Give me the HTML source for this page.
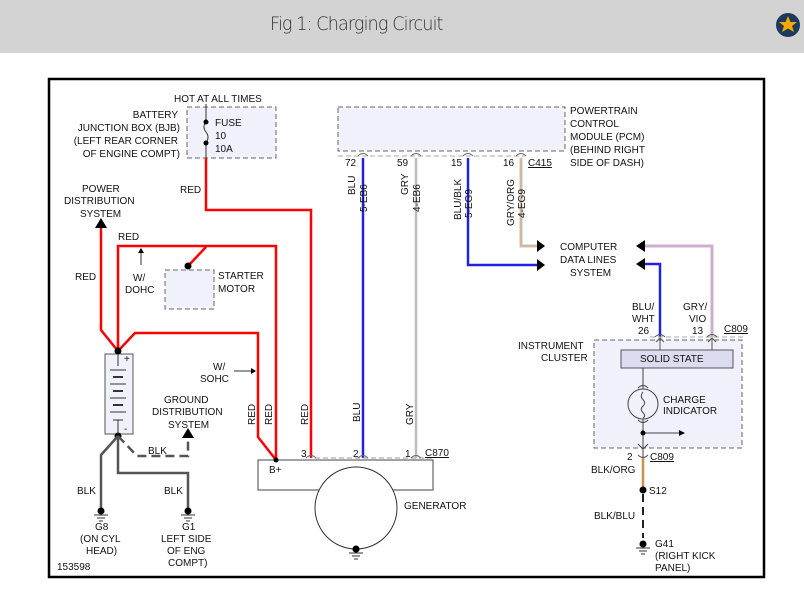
<!DOCTYPE html>
<html><head><style>
body{margin:0;width:804px;height:611px;background:#fff;overflow:hidden;font-family:"Liberation Sans",sans-serif}
.hdr{position:absolute;left:0;top:0;width:804px;height:53px;background:#d3d3d3}
.hdr span{position:absolute;left:270px;top:13px;font-size:19px;color:#333;font-family:"DejaVu Sans","Liberation Sans",sans-serif;letter-spacing:-1px;font-weight:300;transform:scaleX(0.93);transform-origin:left}
svg{position:absolute;left:0;top:0}
text{font-family:"Liberation Sans",sans-serif;font-size:10px;fill:#111}
</style></head><body>
<div class="hdr"><span>Fig 1: Charging Circuit</span></div>
<svg width="804" height="611">
<circle cx="788" cy="25" r="12" fill="#1d3a5c"/>
<polygon points="788,16 790.5,22 797,22 792,26 794,32 788,28.5 782,32 784,26 779,22 785.5,22" fill="#f5a800"/>
<rect x="49" y="79" width="715" height="498" fill="none" stroke="#000" stroke-width="2.5"/>

<!-- fuse box -->
<rect x="187" y="107" width="89" height="51" fill="#f1f1fb" stroke="#666" stroke-dasharray="5,3"/>
<line x1="206" y1="104" x2="206" y2="122" stroke="#333"/>
<line x1="206" y1="143" x2="206" y2="158" stroke="#333"/>
<path d="M206,122 q-4,5 0,10 q4,5 0,11" fill="none" stroke="#333"/>
<circle cx="206" cy="122" r="2.5"/><circle cx="206" cy="143" r="2.5"/>
<text x="174" y="102">HOT AT ALL TIMES</text>
<text x="215" y="126">FUSE</text><text x="215" y="139">10</text><text x="215" y="152">10A</text>
<text x="178" y="118" text-anchor="end">BATTERY</text>
<text x="180" y="131" text-anchor="end">JUNCTION BOX (BJB)</text>
<text x="178" y="144" text-anchor="end">(LEFT REAR CORNER</text>
<text x="180" y="157" text-anchor="end">OF ENGINE COMPT)</text>

<!-- PCM -->
<rect x="338" y="107" width="227" height="44" fill="#f1f1fb" stroke="#666" stroke-dasharray="5,3"/>
<line x1="338" y1="156" x2="525" y2="156" stroke="#aaa" stroke-dasharray="5,3"/>
<g fill="none" stroke="#666"><path d="M358,156 q5,-5 10,0"/><path d="M411,156 q5,-5 10,0"/><path d="M463,156 q5,-5 10,0"/><path d="M516,156 q5,-5 10,0"/></g>
<text x="570" y="114">POWERTRAIN</text><text x="570" y="127">CONTROL</text><text x="570" y="140">MODULE (PCM)</text><text x="570" y="153">(BEHIND RIGHT</text><text x="570" y="166">SIDE OF DASH)</text>
<text x="345" y="166">72</text><text x="397" y="166">59</text><text x="451" y="166">15</text><text x="503" y="166">16</text>
<text x="528" y="166" text-decoration="underline">C415</text>

<!-- wires -->
<g fill="none" stroke-width="2.5">
<path d="M206,158 V210 H311 V458" stroke="#f00"/>
<path d="M101,222 V330 L118,351 L135,333 H258 V437 L276,460" stroke="#f00"/>
<path d="M118,351 V246 H276 V460" stroke="#f00"/>
<path d="M188,266 L206,247" stroke="#f00"/>
<path d="M363,158 V458" stroke="#22d"/>
<path d="M416,158 V458" stroke="#bbb"/>
<path d="M468,158 V265 H537" stroke="#22d"/>
<path d="M521,158 V246 H537" stroke="#e8b890" stroke-width="3"/>
<path d="M521,158 V246 H537" stroke="#bbb" stroke-width="1.5"/>
<path d="M660,337 V264 H645" stroke="#22d"/>
<path d="M712,337 V246 H645" stroke="#e0a0e0" stroke-width="3"/>
<path d="M712,337 V246 H645" stroke="#bbb" stroke-width="1.5"/>
<path d="M643,458 V490" stroke="#c89050"/>
</g>
<g transform="translate(101,218)"><polygon points="-6,10 6,10 0,0"/></g>
<polygon points="537,240 545,246 537,252"/><polygon points="537,259 545,265 537,271"/>
<polygon points="645,240 636,246 645,252"/><polygon points="645,258 636,264 645,270"/>
<text x="355" y="195" transform="rotate(-90 355 195)">BLU</text>
<text x="367" y="212" transform="rotate(-90 367 212)" font-size="9">5-EB6</text>
<text x="408" y="195" transform="rotate(-90 408 195)">GRY</text>
<text x="420" y="212" transform="rotate(-90 420 212)" font-size="9">4-EB6</text>
<text x="461" y="220" transform="rotate(-90 461 220)">BLU/BLK</text>
<text x="472" y="218" transform="rotate(-90 472 218)" font-size="9">5-EG9</text>
<text x="514" y="226" transform="rotate(-90 514 226)">GRY/ORG</text>
<text x="525" y="218" transform="rotate(-90 525 218)" font-size="9">4-EG9</text>
<text x="560" y="250">COMPUTER</text><text x="560" y="263">DATA LINES</text><text x="570" y="276">SYSTEM</text>
<text x="180" y="193">RED</text>
<text x="82" y="192">POWER</text>
<text x="64" y="204">DISTRIBUTION</text><text x="80" y="217">SYSTEM</text>
<text x="118" y="240">RED</text>
<text x="75" y="280">RED</text>
<line x1="141" y1="265" x2="141" y2="252" stroke="#333"/><polygon points="138,253 144,253 141,248"/>
<text x="133" y="281">W/</text><text x="125" y="293">DOHC</text>

<!-- starter -->
<rect x="165" y="270" width="49" height="39" fill="#f1f1fb" stroke="#666" stroke-dasharray="5,3"/>
<circle cx="188" cy="266" r="3.5"/>
<text x="218" y="279">STARTER</text><text x="218" y="292">MOTOR</text>

<!-- battery -->
<rect x="105" y="354" width="28" height="80" fill="#f1f1fb" stroke="#555"/>
<circle cx="118" cy="351" r="3.5"/><circle cx="118" cy="436" r="3.5"/>
<g stroke="#333"><line x1="118" y1="354" x2="118" y2="366"/><line x1="110" y1="370" x2="126" y2="370"/><line x1="113" y1="377" x2="123" y2="377" stroke-width="2"/><line x1="110" y1="384" x2="126" y2="384"/><line x1="113" y1="391" x2="123" y2="391" stroke-width="2"/><line x1="110" y1="398" x2="126" y2="398"/><line x1="113" y1="405" x2="123" y2="405" stroke-width="2"/><line x1="110" y1="412" x2="126" y2="412"/><line x1="113" y1="420" x2="123" y2="420"/><line x1="118" y1="420" x2="118" y2="434"/></g>
<text x="124" y="362" font-size="9">+</text><text x="124" y="432" font-size="9">-</text>

<!-- grounds -->
<g fill="none" stroke="#555" stroke-width="2.5">
<path d="M118,436 L101,455 V510"/><path d="M118,436 V473 H188 V510"/>
<path d="M118,436 L137,456 H188 V440" stroke-dasharray="9,5"/>
</g>
<polygon points="182,438 194,438 188,428"/>
<text x="148" y="454">BLK</text>
<text x="164" y="403">GROUND</text><text x="152" y="415">DISTRIBUTION</text><text x="168" y="428">SYSTEM</text>
<text x="77" y="494">BLK</text><text x="164" y="494">BLK</text>
<g id="gnd"><circle cx="101" cy="511" r="3.5"/><line x1="94" y1="515" x2="108" y2="515" stroke="#333"/><line x1="97" y1="518" x2="105" y2="518" stroke="#333"/><line x1="99" y1="521" x2="103" y2="521" stroke="#333"/></g>
<use href="#gnd" x="87"/><use href="#gnd" x="255" y="38"/><use href="#gnd" x="542" y="33"/>
<text x="95" y="530">G8</text><text x="80" y="542">(ON CYL</text><text x="86" y="554">HEAD)</text>
<text x="182" y="530">G1</text><text x="161" y="542">LEFT SIDE</text><text x="167" y="554">OF ENG</text><text x="168" y="566">COMPT)</text>
<text x="57" y="570">153598</text>

<text x="213" y="370">W/</text><text x="200" y="382">SOHC</text>
<line x1="234" y1="371" x2="252" y2="371" stroke="#333"/><polygon points="251,368 256,371 251,374"/>
<text x="255" y="425" transform="rotate(-90 255 425)">RED</text>
<text x="272" y="425" transform="rotate(-90 272 425)">RED</text>
<text x="308" y="425" transform="rotate(-90 308 425)">RED</text>
<text x="360" y="422" transform="rotate(-90 360 422)">BLU</text>
<text x="413" y="425" transform="rotate(-90 413 425)">GRY</text>

<!-- generator -->
<line x1="315" y1="458" x2="433" y2="458" stroke="#999" stroke-dasharray="5,3"/>
<g fill="none" stroke="#666"><path d="M306,458 q5,-5 10,0"/><path d="M358,458 q5,-5 10,0"/><path d="M411,458 q5,-5 10,0"/></g>
<text x="301" y="457">3</text><text x="353" y="457">2</text><text x="405" y="457">1</text>
<text x="425" y="456" text-decoration="underline">C870</text>
<rect x="258" y="460" width="175" height="30" fill="#fff" stroke="#444"/>
<circle cx="276" cy="460" r="2.5"/>
<text x="269" y="473">B+</text>
<circle cx="356" cy="508" r="41" fill="#fff" stroke="#333"/>
<use href="#gnd" x="255" y="38"/>
<text x="404" y="509">GENERATOR</text>

<!-- instrument cluster -->
<rect x="594" y="340" width="148" height="108" fill="#f1f1fb" stroke="#666" stroke-dasharray="5,3"/>
<line x1="650" y1="337" x2="745" y2="337" stroke="#aaa" stroke-dasharray="5,3"/>
<g fill="none" stroke="#555"><path d="M655,337 q5,-5 10,0"/><path d="M707,337 q5,-5 10,0"/>
<path d="M660,350 V338 M656,342 l4,-4 4,4 M712,350 V338 M708,342 l4,-4 4,4"/></g>
<rect x="621" y="350" width="112" height="18" fill="#dcdcf0" stroke="#555"/>
<text x="640" y="362">SOLID STATE</text>
<text x="632" y="310">BLU/</text><text x="632" y="322">WHT</text><text x="638" y="334">26</text>
<text x="683" y="310">GRY/</text><text x="689" y="322">VIO</text><text x="692" y="334">13</text>
<text x="724" y="332" text-decoration="underline">C809</text>
<text x="518" y="349">INSTRUMENT</text><text x="541" y="361">CLUSTER</text>
<g stroke="#444" fill="none"><line x1="643" y1="368" x2="643" y2="458"/><circle cx="643" cy="404" r="15" fill="#f1f1fb"/>
<path d="M638,388 q5,-5 10,0 M638,420 q5,5 10,0 M643,392 c-6,8 6,8 0,14 c-6,6 6,8 0,12"/>
<line x1="643" y1="433" x2="680" y2="433"/><path d="M638,444 l5,5 5,-5"/></g>
<polygon points="679,430 685,433 679,436"/><circle cx="643" cy="433" r="2.5"/>
<text x="663" y="403">CHARGE</text><text x="663" y="414">INDICATOR</text>
<path d="M638,455 q5,5 10,0" fill="none" stroke="#555"/>
<text x="627" y="460">2</text><text x="650" y="460" text-decoration="underline">C809</text>
<text x="591" y="473">BLK/ORG</text>
<circle cx="643" cy="490" r="3.5"/><text x="649" y="494">S12</text>
<line x1="643" y1="494" x2="643" y2="538" stroke="#222" stroke-width="2" stroke-dasharray="8,5"/>
<text x="594" y="519">BLK/BLU</text>
<text x="655" y="547">G41</text><text x="655" y="559">(RIGHT KICK</text><text x="655" y="571">PANEL)</text>
</svg>
</body></html>
